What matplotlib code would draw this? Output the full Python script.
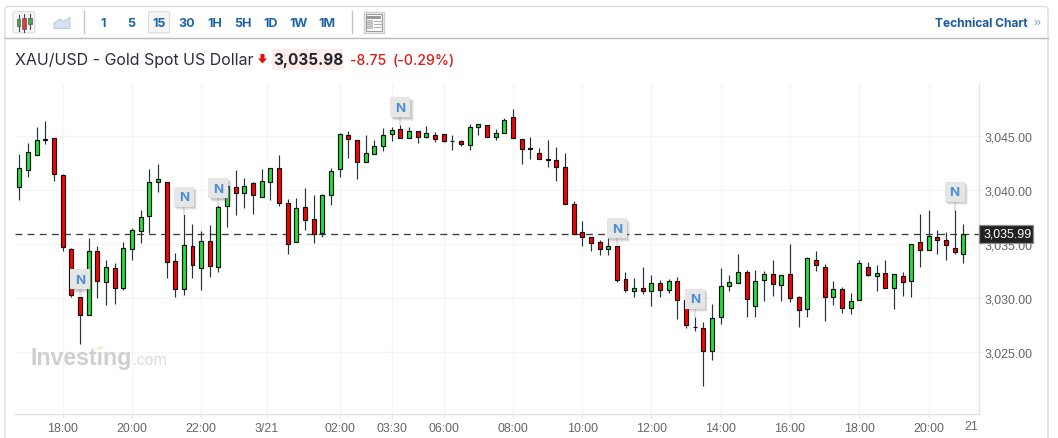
import matplotlib
matplotlib.use("Agg")
import matplotlib.pyplot as plt
from matplotlib.patches import Rectangle, FancyBboxPatch, Polygon
from matplotlib.ticker import FuncFormatter

# ---------- data ----------
opens = [3040.28,3041.85,3043.24,3044.70,3044.81,3041.39,3034.54,3030.09,3028.43,3034.35,
         3031.48,3032.78,3030.93,3034.54,3036.20,3037.59,3040.74,3040.74,3033.43,3030.83,
         3034.81,3032.78,3035.28,3032.87,3038.52,3040.28,3039.72,3040.65,3039.35,3040.80,
         3042.04,3038.80,3035.19,3038.43,3037.31,3036.02,3039.54,3041.94,3045.09,3044.63,
         3042.59,3043.33,3044.07,3045.19,3045.65,3044.81,3045.46,3044.91,3045.09,3045.19,
         3044.52,3044.54,3044.17,3045.83,3046.02,3044.91,3045.28,3046.76,3044.72,3043.91,
         3043.43,3042.89,3042.78,3042.13,3038.70,3036.11,3035.65,3035.19,3034.54,3034.81,
         3031.76,3030.65,3030.93,3030.65,3031.39,3030.74,3031.57,3029.81,3027.38,3027.22,
         3025.09,3028.24,3031.11,3031.39,3032.41,3029.26,3031.67,3032.22,3031.20,3032.22,
         3030.09,3028.98,3033.52,3032.87,3030.09,3030.83,3029.07,3029.81,3032.87,3032.04,
         3032.31,3030.93,3032.10,3031.57,3035.19,3034.44,3035.65,3035.37,3034.63,3034.07]
closes = [3042.04,3043.52,3044.63,3044.74,3041.48,3034.72,3030.28,3028.43,3034.35,3031.57,
          3032.87,3030.93,3034.63,3036.30,3037.50,3040.74,3041.02,3033.33,3030.83,3034.91,
          3033.06,3035.28,3032.96,3038.43,3040.37,3039.72,3040.37,3039.54,3040.83,3042.04,
          3038.80,3035.00,3038.33,3037.22,3035.93,3039.54,3041.76,3045.19,3044.72,3042.59,
          3043.43,3044.07,3045.09,3045.56,3044.81,3045.46,3044.91,3045.28,3044.72,3044.54,
          3044.56,3044.26,3045.83,3046.11,3044.91,3045.28,3046.48,3044.81,3043.80,3043.87,
          3042.87,3042.85,3042.13,3038.70,3035.93,3035.65,3035.09,3034.54,3034.81,3031.67,
          3030.74,3030.93,3030.65,3031.39,3030.74,3031.57,3029.81,3027.50,3027.32,3025.09,
          3028.15,3031.11,3031.48,3032.41,3029.91,3031.57,3032.22,3031.30,3032.13,3030.00,
          3028.89,3033.70,3033.06,3030.09,3030.83,3029.07,3029.72,3033.24,3032.19,3032.31,
          3030.93,3032.22,3031.48,3035.00,3034.44,3035.74,3035.37,3034.91,3034.26,3035.99]
highs = [3043.36,3044.38,3045.86,3046.39,3044.81,3041.48,3034.63,3030.86,3035.56,3034.85,
         3033.52,3033.27,3035.19,3036.48,3038.15,3041.98,3042.44,3040.74,3034.20,3037.81,
         3036.85,3036.20,3036.79,3038.89,3040.37,3041.88,3041.11,3040.74,3041.94,3041.94,
         3043.27,3039.20,3039.29,3040.22,3039.57,3039.63,3042.04,3045.28,3045.49,3044.63,
         3045.09,3044.66,3045.77,3045.86,3046.05,3045.86,3045.46,3045.96,3045.37,3045.19,
         3045.09,3044.63,3046.14,3046.11,3046.02,3045.65,3046.70,3047.53,3044.72,3044.94,
         3043.89,3044.63,3043.98,3043.43,3038.98,3037.13,3035.65,3035.37,3035.56,3034.81,
         3032.41,3031.85,3032.87,3032.13,3031.67,3031.76,3031.94,3029.81,3028.24,3027.78,
         3029.44,3032.78,3032.13,3034.07,3032.59,3032.59,3032.50,3033.52,3032.13,3035.00,
         3030.19,3033.80,3034.35,3033.15,3031.57,3031.02,3030.46,3033.52,3033.33,3033.06,
         3033.52,3032.22,3032.41,3035.00,3037.78,3038.15,3036.30,3036.11,3038.15,3036.85]
lows = [3039.14,3041.27,3043.24,3044.29,3040.90,3034.41,3030.15,3025.77,3028.43,3030.03,
        3029.41,3029.51,3030.74,3033.58,3035.15,3036.02,3039.88,3031.91,3030.15,3030.34,
        3031.91,3030.80,3032.01,3032.47,3036.64,3037.75,3038.40,3037.84,3039.35,3039.14,
        3038.58,3034.14,3035.19,3036.36,3035.15,3035.71,3038.67,3041.27,3042.99,3041.08,
        3042.59,3043.33,3043.64,3044.60,3044.81,3044.81,3044.41,3044.81,3044.51,3044.44,
        3043.77,3044.14,3043.77,3045.15,3044.91,3044.63,3045.28,3044.81,3042.47,3042.93,
        3042.87,3042.19,3040.90,3038.70,3035.93,3034.88,3034.41,3034.04,3034.04,3031.48,
        3030.56,3030.15,3030.43,3029.32,3030.15,3030.52,3028.12,3027.28,3027.01,3021.91,
        3024.32,3027.65,3030.71,3031.39,3028.30,3028.30,3029.78,3030.25,3029.78,3029.69,
        3027.38,3028.30,3032.56,3027.93,3029.41,3028.67,3028.58,3029.81,3032.10,3030.71,
        3030.93,3029.04,3030.25,3030.15,3032.93,3034.44,3034.14,3033.58,3034.14,3033.30]
last_price = 3035.99
price_ticks = [3025, 3030, 3035, 3040, 3045]
time_positions = [5, 13, 21, 28.6, 37, 43, 49, 57, 65, 73, 81, 89, 97, 105]
time_labels = ["18:00","20:00","22:00","3/21","02:00","03:30","06:00","08:00",
               "10:00","12:00","14:00","16:00","18:00","20:00"]
news_bars = [7, 19, 23, 44, 69, 78, 108]
news_tips = [3030.12, 3037.74, 3038.52, 3046.02, 3034.8, 3028.27, 3038.18]
timeframes = ["1","5","15","30","1H","5H","1D","1W","1M"]
timeframe_px = [103,131,159,187,215,243,271,299,327]

# ---------- figure ----------
W, H = 1058, 439
fig = plt.figure(figsize=(W/100, H/100), dpi=100, facecolor="white")
plt.rcParams["font.family"] = ["Liberation Sans", "DejaVu Sans"]

AX_L, AX_R, AX_T, AX_B = 15, 978.7, 85, 414.5
ax = fig.add_axes([AX_L/W, 1-AX_B/H, (AX_R-AX_L)/W, (AX_B-AX_T)/H])
PX_PER_BAR, X0 = 8.66, 19.3
PX_PER_USD, Y3045 = 10.8, 137.3
ax.set_xlim((AX_L-X0)/PX_PER_BAR, (AX_R-X0)/PX_PER_BAR)
ax.set_ylim(3045+(Y3045-AX_B)/PX_PER_USD, 3045+(Y3045-AX_T)/PX_PER_USD)

GREEN, RED = "#22e03a", "#ff0000"
xs = list(range(len(opens)))
ax.vlines(xs, lows, highs, color="#27333a", lw=0.85, zorder=3)
bot = [min(o, c) for o, c in zip(opens, closes)]
hgt = [abs(c-o) for o, c in zip(opens, closes)]
col = [GREEN if c >= o else RED for o, c in zip(opens, closes)]
ax.bar(xs, hgt, bottom=bot, width=0.46, color=col, edgecolor="#111111", linewidth=0.85, zorder=4)

ax.axhline(last_price, color="#3c3c3c", lw=0.95, dashes=(5.2, 4.0), zorder=2)

for s in ("top", "left"):
    ax.spines[s].set_visible(False)
for s in ("bottom", "right"):
    ax.spines[s].set_color("#e2e3ea")
    ax.spines[s].set_linewidth(1.0)
ax.grid(True, color="#f5f5f6", lw=0.9, zorder=0)
ax.set_axisbelow(True)
ax.yaxis.tick_right()
ax.set_yticks(price_ticks)
ax.yaxis.set_major_formatter(FuncFormatter(lambda v, _: f"{v:,.2f}"))
ax.set_xticks(time_positions)
ax.set_xticklabels(time_labels)
ax.tick_params(axis="both", width=0.8, color="#e2e3ea", labelcolor="#666666", labelsize=8.9)
ax.tick_params(axis="x", length=3, pad=2.8)
ax.tick_params(axis="y", length=2, pad=2)

# ---------- page overlay in pixels ----------
ov = fig.add_axes([0, 0, 1, 1], facecolor="none")
ov.set_xlim(0, W); ov.set_ylim(H, 0); ov.axis("off")

def px_x(i): return X0 + PX_PER_BAR*i
def px_y(p): return Y3045 + (3045-p)*PX_PER_USD

# frame and toolbar
ov.add_patch(FancyBboxPatch((5, 7.5), 1043, 460, boxstyle="round,pad=0,rounding_size=4",
                            fc="none", ec="#dcdcdc", lw=1.0, zorder=1))
ov.plot([5, 1048], [39, 39], color="#b9b9b9", lw=1.0, zorder=1)
for x in (83.5, 352):
    ov.plot([x, x], [12, 34], color="#c4c4c4", lw=1.0)
ov.add_patch(FancyBboxPatch((148.6, 12.5), 21, 21.5, boxstyle="round,pad=0,rounding_size=1.5",
                            fc="#f6f6f7", ec="#dedede", lw=0.9))
ov.add_patch(FancyBboxPatch((13, 12.5), 21.7, 21.5, boxstyle="round,pad=0,rounding_size=1.5",
                            fc="#f6f6f7", ec="#dedede", lw=0.9))
for x, t, b, wt, wb, c in [(18.5, 19.5, 27, 16, 31.5, "#45a845"), (24, 18.5, 29.5, 15, 32.5, "#e33b3b"), (30, 18.5, 24.5, 15, 29.5, "#45a845")]:
    ov.plot([x, x], [wt, wb], color="#444444", lw=0.8)
    ov.add_patch(Rectangle((x-1.8, t), 3.6, b-t, fc=c, ec="#555555", lw=0.5, zorder=3))
ov.add_patch(Polygon([(54, 29.4), (54, 24.4), (59.5, 20), (63.5, 22.5), (70, 18.6), (70, 29.4)],
                     fc="#d6e2ef", ec="#b8cde2", lw=0.8))
ov.add_patch(Rectangle((363.5, 12.5), 20.5, 21.5, fc="#f3f3f3", ec="#cfcfcf", lw=1.0))
ov.add_patch(Rectangle((366, 15), 15.5, 16.5, fc="#ffffff", ec="#9a9a9a", lw=0.8))
ov.add_patch(Rectangle((367, 17), 13.5, 3, fc="#9a9a9a", ec="none"))
ov.add_patch(Rectangle((367, 21), 5.5, 9, fc="#c2c2c2", ec="none"))
for y in (22, 25, 28):
    ov.plot([374, 380.5], [y, y], color="#b0b0b0", lw=0.8)

for lab, x in zip(timeframes, timeframe_px):
    ov.text(x, 24, lab, ha="center", va="center", fontsize=9, fontweight="bold",
            family="Inter", color="#1f63a8")
ov.text(1028, 23.8, "Technical Chart", ha="right", va="center", fontsize=8.6, fontweight="bold",
        family="Inter", color="#1c5b9e")
ov.text(1040, 23, "»", ha="right", va="center", fontsize=9, color="#6f9ccb")

# title row
ov.text(15, 60.8, "XAU/USD - Gold Spot US Dollar", ha="left", va="center", fontsize=11.5,
        family="Inter", color="#2a2e39")
ov.add_patch(Polygon([(258, 59.5), (260.5, 59.5), (260.5, 55), (264.5, 55), (264.5, 59.5),
                      (267, 59.5), (262.5, 64.5)], fc="#e01010", ec="none"))
ov.add_patch(Rectangle((272, 49.7), 71, 21.3, fc="#fdece8", ec="none"))
ov.text(273, 60.8, "3,035.98", ha="left", va="center", fontsize=11, fontweight="bold",
        family="Inter", color="#22252c")
ov.text(350.3, 60.8, "-8.75", ha="left", va="center", fontsize=10.1, fontweight="medium",
        family="Inter", color="#dc1c13")
ov.text(392.7, 60.8, "(-0.29%)", ha="left", va="center", fontsize=10.2, fontweight="medium",
        family="Inter", color="#dc1c13")

# watermark
ov.text(30, 365.5, "Investing", ha="left", va="baseline", fontsize=16.7, fontweight="bold",
        family="Liberation Sans", color="#cfcfcf", zorder=1)
ov.text(133, 365.5, ".com", ha="left", va="baseline", fontsize=11.6, family="Liberation Sans",
        color="#dcdcdc", zorder=1)
ov.add_patch(Polygon([(97, 349), (103, 346.5), (103, 349.5), (97, 351)], fc="#fbe8c8", ec="none", zorder=2))

# "21" end label and last price tag
ov.text(978, 426.7, "21", ha="right", va="center", fontsize=8.9, color="#666666")
ov.add_patch(Rectangle((978.5, 225.5), 54.5, 18, fc="#222222", ec="#8c8c8c", lw=0.9, zorder=6))
ov.text(1007.3, 234.6, f"{last_price:,.2f}", ha="center", va="center", fontsize=8.9,
        color="white", zorder=7)

# news flags
for i, tip in zip(news_bars, news_tips):
    cx = px_x(i)
    ty = px_y(tip)
    ov.plot([cx, cx], [ty-9, ty], color="#e2e2e2", lw=1.6, zorder=8, solid_capstyle="butt")
    bx, by = cx-10, ty-28
    for off, a in ((3.5, 0.10), (2.5, 0.14), (1.5, 0.20)):
        ov.add_patch(Rectangle((bx+off, by+off), 20, 20, fc="#777777", alpha=a, ec="none", zorder=8))
    ov.add_patch(Rectangle((bx, by), 20, 20, fc="#e6e6e6", ec="none", zorder=9))
    ov.text(cx, by+10.5, "N", ha="center", va="center", fontsize=9.6, fontweight="bold",
            family="Inter", color="#4a8fd4", zorder=10)

fig.savefig("out.png", dpi=100)
